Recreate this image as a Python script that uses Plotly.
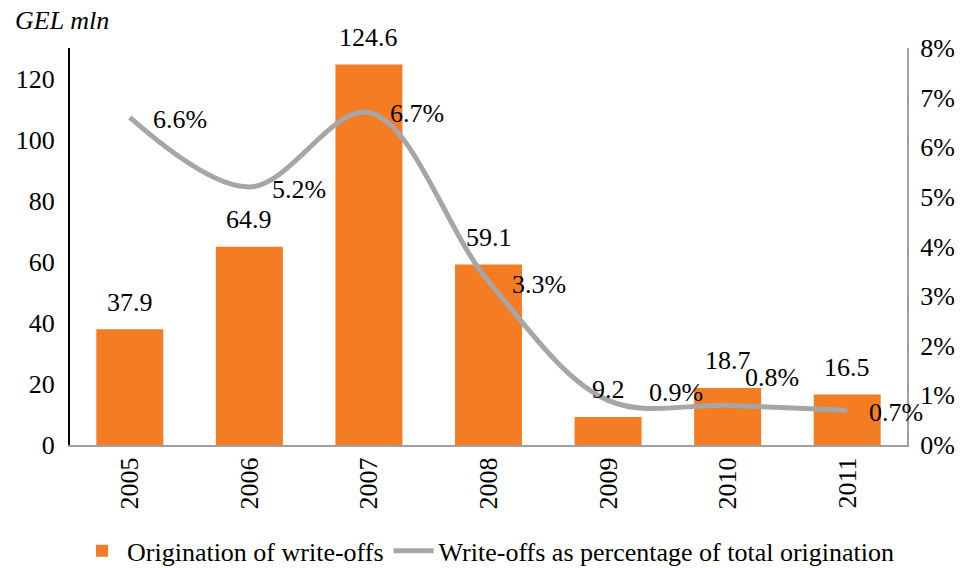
import plotly.graph_objects as go

years = ["2005", "2006", "2007", "2008", "2009", "2010", "2011"]
origination = [37.9, 64.9, 124.6, 59.1, 9.2, 18.7, 16.5]
writeoff_pct = [6.6, 5.2, 6.7, 3.3, 0.9, 0.8, 0.7]
left_ticks = [0, 20, 40, 60, 80, 100, 120]
right_ticks = [0, 1, 2, 3, 4, 5, 6, 7, 8]

FONT = "Liberation Serif"
ORANGE = "#F47C22"
GREY = "#A6A6A8"
FS = 26

fig = go.Figure()
fig.add_trace(go.Bar(
    x=years, y=origination, name="Origination of write-offs",
    marker=dict(color=ORANGE, line=dict(width=0)),
))
fig.add_trace(go.Scatter(
    x=years, y=[v / 100 for v in writeoff_pct], yaxis="y2", mode="lines",
    name="Write-offs as percentage of total origination",
    line=dict(color=GREY, width=5, shape="spline", smoothing=1.0),
))

annotations = []
for i, v in enumerate(origination):
    annotations.append(dict(x=i, y=v, xref="x", yref="y", text=f"{v:.1f}",
                            showarrow=False, xanchor="center", yanchor="middle",
                            yshift=27, font=dict(family=FONT, size=FS, color="black")))
# per-label offsets (dx, dy) for the percentage labels
pct_offsets = [(21, -2), (21, -3), (19, -1), (21, -3), (39, 8), (15, 28), (20, -2)]
for i, (v, (dx, dy)) in enumerate(zip(writeoff_pct, pct_offsets)):
    annotations.append(dict(x=i, y=v / 100, xref="x", yref="y2", text=f"{v:.1f}%",
                            showarrow=False, xanchor="left", yanchor="middle",
                            xshift=dx, yshift=dy, font=dict(family=FONT, size=FS, color="black")))
annotations.append(dict(x=-0.068, y=1.07, xref="paper", yref="paper",
                        text="<i>GEL mln</i>", showarrow=False,
                        xanchor="left", yanchor="middle",
                        font=dict(family=FONT, size=FS, color="black")))

fig.update_layout(
    width=965, height=568,
    margin=dict(l=70, r=58, t=48, b=123),
    paper_bgcolor="white", plot_bgcolor="white",
    font=dict(family=FONT, size=FS, color="black"),
    bargap=0.44,
    showlegend=True,
    legend=dict(orientation="h", x=0.5, xanchor="center", xref="paper",
                y=0.03, yanchor="middle", yref="container",
                font=dict(family=FONT, size=FS, color="black"), itemwidth=40,
                tracegroupgap=0),
    xaxis=dict(type="category", range=[-0.5, 6.5], tickangle=-90, showgrid=False,
               showline=True, linecolor="#A0A0A0", linewidth=2, ticks="",
               tickfont=dict(size=FS), automargin=False),
    yaxis=dict(range=[0, 130], tickvals=left_ticks, showgrid=False, zeroline=False,
               showline=True, linecolor="black", linewidth=2, ticks="",
               ticklabelstandoff=8, automargin=False),
    yaxis2=dict(range=[0, 0.08], tickvals=[t / 100 for t in right_ticks],
                ticktext=[f"{t}%" for t in right_ticks], overlaying="y", side="right",
                showgrid=False, zeroline=False, showline=True, linecolor="#A0A0A0",
                linewidth=2, ticks="", ticklabelstandoff=6, automargin=False),
    annotations=annotations,
)

fig.write_html("out.html", config={"displayModeBar": False},
               post_script="document.body.style.margin='0';")
